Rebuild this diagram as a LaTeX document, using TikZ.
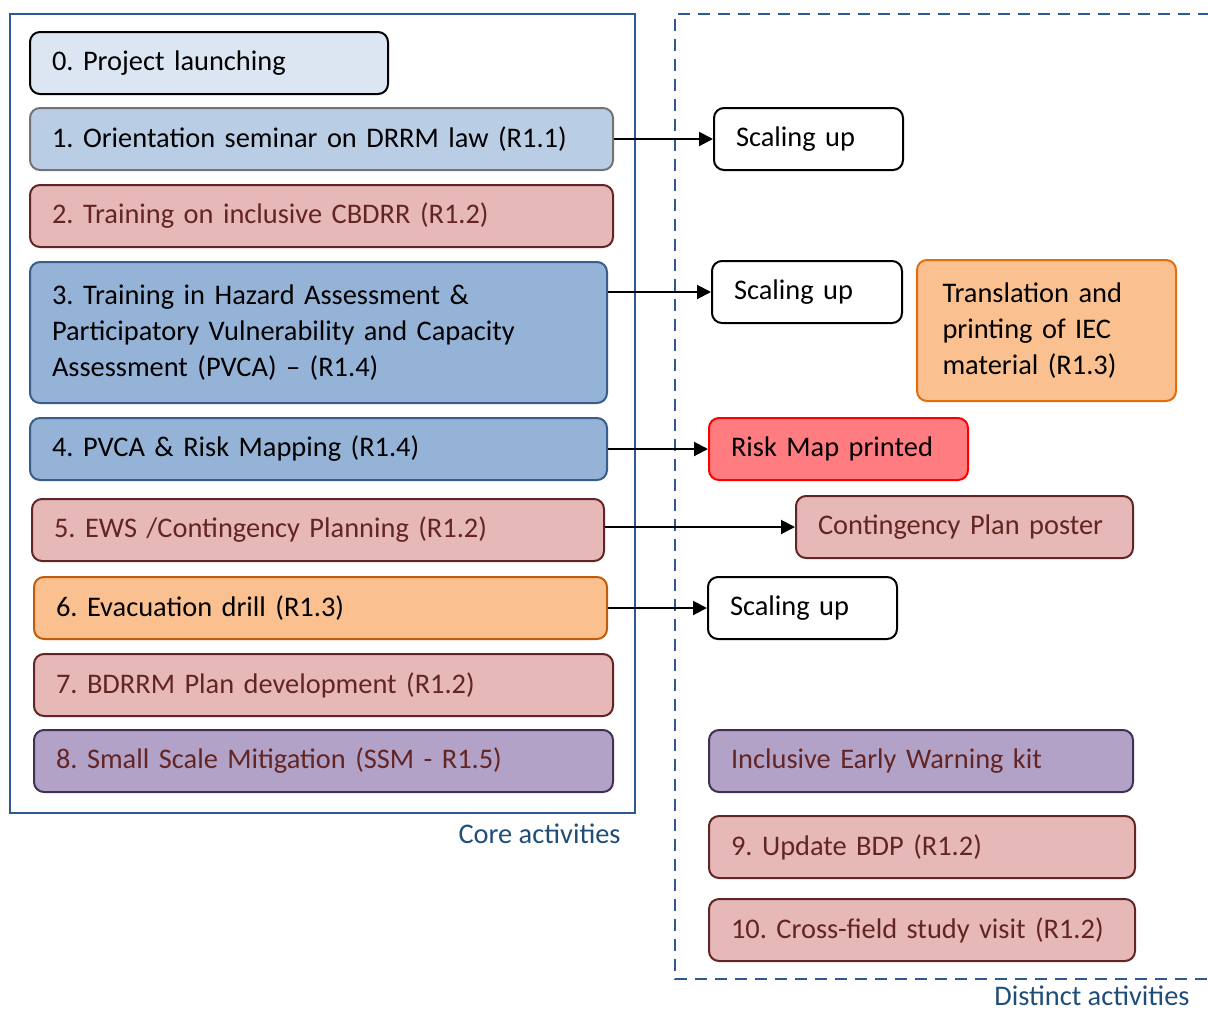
\documentclass[tikz,border=0pt]{standalone}
\usepackage{fontspec}
\setmainfont{Carlito}
\usepackage{tikz}
\usetikzlibrary{arrows.meta}
\frenchspacing

\definecolor{PaleBlue}{HTML}{DCE6F2}
\definecolor{MidBlue}{HTML}{B9CDE5}
\definecolor{DeepBlue}{HTML}{95B3D7}
\definecolor{EdgeBlue}{HTML}{385D8A}
\definecolor{FrameBlue}{HTML}{2E5A92}
\definecolor{LabelBlue}{HTML}{1F4E79}
\definecolor{Rose}{HTML}{E6B9B8}
\definecolor{Wine}{HTML}{632523}
\definecolor{Peach}{HTML}{FAC090}
\definecolor{Tangerine}{HTML}{E46C0A}
\definecolor{Coral}{HTML}{FF7C80}
\definecolor{Lilac}{HTML}{B3A2C7}
\definecolor{Plum}{HTML}{403152}

\tikzset{
    act/.style={draw, rounded corners=5pt, line width=1pt, anchor=north west,
        inner xsep=11pt, minimum height=31pt, align=left, text width=#1},
    rose/.style={act=#1, fill=Rose, draw=Wine, text=Wine},
    plain/.style={act=#1, fill=white, draw=black},
    flow/.style={-{Triangle[length=7pt,width=7pt]}, line width=1pt, black}
}

\begin{document}
\begin{tikzpicture}[x=0.5pt, y=-0.5pt,
    every node/.style={font=\fontsize{14.2pt}{18pt}\selectfont}]
    \useasboundingbox (0,0) rectangle (1208,1012);

    % frames
    \draw[FrameBlue, line width=1pt] (10,14) rectangle (635,813);
    \draw[FrameBlue, line width=1pt, dash pattern=on 6pt off 4pt] (1230,14) -| (675,979) -- (1230,979);
    \node[anchor=base east, text=LabelBlue, inner sep=0pt] (corelbl) at (621,843) {Core activities};
    \node[anchor=base east, text=LabelBlue, inner sep=0pt] (distlbl) at (1190,1005) {Distinct activities};

    % core activities
    \node[act=157pt, fill=PaleBlue] (b0) at (29,31) {0. Project launching};
    \node[act=269.5pt, fill=MidBlue, draw=gray!90!black] (b1) at (29,107) {1. Orientation seminar on DRRM law (R1.1)};
    \node[rose=269.5pt] (b2) at (29,184) {2. Training on inclusive CBDRR (R1.2)};
    \node[act=266.5pt, fill=DeepBlue, draw=EdgeBlue, minimum height=70.5pt] (b3) at (29,261)
        {3. Training in Hazard Assessment \&\\Participatory Vulnerability and Capacity\\Assessment (PVCA) -- (R1.4)};
    \node[act=266.5pt, fill=DeepBlue, draw=EdgeBlue] (b4) at (29,417) {4. PVCA \& Risk Mapping (R1.4)};
    \node[rose=264pt] (b5) at (31,498) {5. EWS /Contingency Planning (R1.2)};
    \node[act=264.5pt, fill=Peach, draw=Tangerine!85!black] (b6) at (33,576) {6. Evacuation drill (R1.3)};
    \node[rose=267.5pt] (b7) at (33,653) {7. BDRRM Plan development (R1.2)};
    \node[act=267.5pt, fill=Lilac, draw=Plum, text=Wine] (b8) at (33,729) {8. Small Scale Mitigation (SSM - R1.5)};

    % distinct activities
    \node[plain=72.5pt] (s1) at (713,107) {Scaling up};
    \node[plain=73pt] (s3) at (711,260) {Scaling up};
    \node[act=104pt, fill=Peach, draw=Tangerine, minimum height=70.5pt, inner xsep=12.75pt] (iec) at (916,259)
        {Translation and\\printing of IEC\\material (R1.3)};
    \node[act=107.5pt, fill=Coral, draw=red] (map) at (708,417) {Risk Map printed};
    \node[rose=146.5pt] (poster) at (795,495) {Contingency Plan poster};
    \node[plain=72.5pt] (s6) at (707,576) {Scaling up};
    \node[act=190pt, fill=Lilac, draw=Plum, text=Wine] (kit) at (708,729) {Inclusive Early Warning kit};
    \node[rose=191pt] (bdp) at (708,815) {9. Update BDP (R1.2)};
    \node[rose=191pt] (visit) at (708,898) {10. Cross-field study visit (R1.2)};

    % links
    \draw[flow] (b1.east |- s1) -- (s1);
    \draw[flow] (b3.east |- s3) -- (s3);
    \draw[flow] (b4) -- (map);
    \draw[flow] (b5.east |- poster) -- (poster);
    \draw[flow] (b6) -- (s6);
\end{tikzpicture}
\end{document}
